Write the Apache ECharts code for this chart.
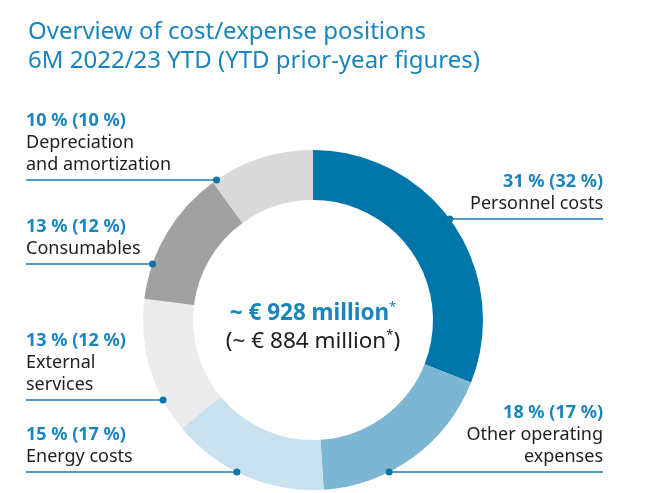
<!DOCTYPE html>
<html><head><meta charset="utf-8">
<script src="https://cdn.jsdelivr.net/npm/echarts@6/dist/echarts.min.js"></script>
<style>html,body{margin:0;padding:0;background:#fff}#c{width:648px;height:493px}</style>
</head><body><div id="c"></div>
<script>
// ---- data ----
var categories = ['Personnel costs', 'Other operating\nexpenses', 'Energy costs', 'External\nservices', 'Consumables', 'Depreciation\nand amortization'];
var sharesCurrent = [31, 18, 15, 13, 13, 10];
var sharesPrior = [32, 17, 17, 12, 12, 10];
var totalCurrent = 928;
var totalPrior = 884;
var titleLines = ['Overview of cost/expense positions', '6M 2022/23 YTD (YTD prior-year figures)'];

// ---- styles / layout ----
var colors = ['#0076a8', '#7bb6d3', '#c9e1ee', '#ebebeb', '#a1a1a1', '#d9d9d9'];
var blue = '#1a85bd';
var cx = 313, cy = 320, rIn = 120, rOut = 170;
var lineY = [219, 472, 472, 400, 264, 180];
var sideRight = [true, true, false, false, false, false];
var leftX = 26, rightX = 603;
var font = '"Noto Sans", sans-serif';

function dotX(i) {
  var dy = lineY[i] - cy;
  var dx = Math.sqrt(Math.max(0, rOut * rOut - dy * dy));
  return sideRight[i] ? cx + dx : cx - dx;
}

var seriesData = categories.map(function (c, i) {
  return { name: c, value: sharesCurrent[i], itemStyle: { color: colors[i] } };
});

var chart = echarts.init(document.getElementById('c'), null, { renderer: 'canvas' });

var dots = categories.map(function (c, i) {
  return { type: 'circle', shape: { cx: dotX(i), cy: lineY[i], r: 3.5 }, style: { fill: '#0a76a8' }, z: 100 };
});

chart.setOption({
  animation: false,
  title: {
    text: titleLines.join('\n'),
    left: 23, top: 13,
    textStyle: { color: blue, fontSize: 24, fontWeight: 'normal', fontFamily: font, lineHeight: 29 }
  },
  graphic: dots.concat([{
    type: 'text', x: cx, y: cy + 8, z: 100,
    style: {
      text: '{a|~ € ' + totalCurrent + ' million}{s|*}\n{b|(~ € ' + totalPrior + ' million}{t|*}{b|)}',
      align: 'center', verticalAlign: 'middle',
      rich: {
        a: { fontSize: 22.5, fontWeight: 'bold', fill: blue, fontFamily: font, lineHeight: 28 },
        s: { fontSize: 13, fill: blue, fontFamily: font, lineHeight: 28, padding: [0, 0, 13, 0] },
        b: { fontSize: 22.5, fill: '#1e1e1e', fontFamily: font, lineHeight: 28 },
        t: { fontSize: 13, fill: '#1e1e1e', fontFamily: font, lineHeight: 28, padding: [0, 0, 13, 0] }
      }
    }
  }]),
  series: [{
    type: 'pie',
    center: [cx, cy],
    radius: [rIn, rOut],
    startAngle: 90,
    clockwise: true,
    silent: true,
    data: seriesData,
    label: {
      show: true,
      overflow: 'none',
      formatter: function (p) {
        var i = p.dataIndex;
        var lines = categories[i].split('\n').map(function (s) { return '{n|' + s + '}'; });
        return '{p|' + sharesCurrent[i] + ' % (' + sharesPrior[i] + ' %)}\n' + lines.join('\n');
      },
      rich: {
        p: { fontSize: 18, fontWeight: 'bold', color: blue, fontFamily: font, lineHeight: 22 },
        n: { fontSize: 18, color: '#1e1e1e', fontFamily: font, lineHeight: 22 }
      }
    },
    labelLine: { show: true, lineStyle: { color: '#1a7db0', width: 1.5 } },
    labelLayout: function (params) {
      var i = params.dataIndex;
      var right = sideRight[i];
      var y = lineY[i];
      var endX = right ? rightX : leftX;
      return {
        x: endX, y: y - 4,
        align: right ? 'right' : 'left',
        verticalAlign: 'bottom',
        labelLinePoints: [[dotX(i), y], [dotX(i), y], [endX, y]]
      };
    }
  }]
});
</script>
</body></html>
